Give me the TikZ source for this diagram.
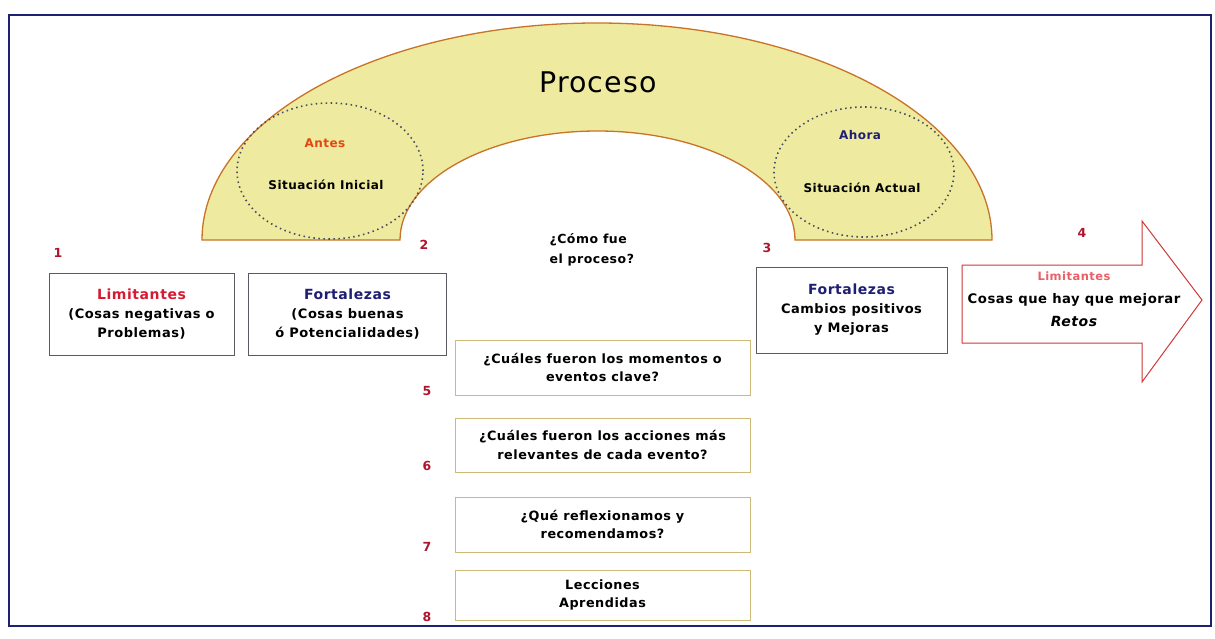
\documentclass[tikz,border=0pt]{standalone}
\usepackage{fontspec}
\setmainfont{DejaVu Sans}[LetterSpace=4]
\definecolor{archfill}{RGB}{238,235,160}
\definecolor{archline}{RGB}{200,115,40}
\definecolor{framecol}{RGB}{28,34,112}
\definecolor{numred}{RGB}{175,20,45}
\definecolor{limred}{RGB}{215,25,50}
\definecolor{antesred}{RGB}{228,70,20}
\definecolor{navytxt}{RGB}{30,30,115}
\definecolor{arrowred}{RGB}{210,55,55}
\definecolor{lightred}{RGB}{235,95,105}
\definecolor{qline}{RGB}{205,185,120}
\definecolor{boxline}{RGB}{90,90,100}
\definecolor{dotcol}{RGB}{70,75,95}
\newcommand\ttlfnt{\bfseries\fontsize{14}{19}\selectfont}
\begin{document}
\begin{tikzpicture}[x=1pt,y=-1pt,
  numlbl/.style={font=\bfseries\fontsize{12.5}{14}\selectfont, text=numred},
  wbox/.style={draw=boxline, line width=0.8pt, fill=white, align=center, inner sep=0pt,
    font=\bfseries\fontsize{13}{19}\selectfont},
  qbox/.style={draw=qline, line width=1pt, fill=white, align=center, inner sep=0pt,
    minimum width=295pt, font=\bfseries\fontsize{12.8}{18.5}\selectfont},
  dotell/.style={draw=dotcol, line width=1.6pt, dash pattern=on 1.5pt off 3.5pt},
  archtxt/.style={font=\bfseries\fontsize{12}{13}\selectfont}
]
\useasboundingbox (0,0) rectangle (1215,639);
% frame
\draw[framecol, line width=2.5pt] (9,15) rectangle (1211,626);
% arch
\draw[archline, line width=1.3pt, fill=archfill]
  (202,240) arc[start angle=180, end angle=0, x radius=395pt, y radius=217pt]
  -- (795,240) arc[start angle=0, end angle=180, x radius=197.5pt, y radius=109pt]
  -- cycle;
\draw[dotell] (330,171) ellipse[x radius=93pt, y radius=68pt];
\draw[dotell] (864,172) ellipse[x radius=90pt, y radius=65pt];
\node[font=\fontsize{28.5}{32}\selectfont] (proc) at (598,82) {Proceso};
\node[archtxt, text=antesred] (antes) at (325,143) {Antes};
\node[archtxt] (sinicial) at (326,185) {Situación Inicial};
\node[archtxt, text=navytxt] (ahora) at (860,135) {Ahora};
\node[archtxt] (sactual) at (862,188) {Situación Actual};
% numbers
\node[numlbl] (n1) at (58,253) {1};
\node[numlbl] (n2) at (424,245) {2};
\node[numlbl] (n3) at (767,248) {3};
\node[numlbl] (n4) at (1082,233) {4};
\node[numlbl] (n5) at (427,391) {5};
\node[numlbl] (n6) at (427,466) {6};
\node[numlbl] (n7) at (427,547) {7};
\node[numlbl] (n8) at (427,617) {8};
% boxes
\node[wbox, minimum width=185pt, minimum height=82pt] (b1) at (141.5,314)
  {{\ttlfnt\textcolor{limred}{Limitantes}}\\(Cosas negativas o\\Problemas)};
\node[wbox, minimum width=198pt, minimum height=82pt] (b2) at (347.5,314)
  {{\ttlfnt\textcolor{navytxt}{Fortalezas}}\\(Cosas buenas\\ó Potencialidades)};
\node[wbox, minimum width=191pt, minimum height=86pt] (b3) at (851.5,310)
  {{\ttlfnt\textcolor{navytxt}{Fortalezas}}\\Cambios positivos\\y Mejoras};
\node[font=\bfseries\fontsize{12.5}{20}\selectfont, align=left, anchor=west] (como) at (546,250)
  {¿Cómo fue\\el proceso?};
% question boxes
\node[qbox, minimum height=55pt] (b5) at (602.5,367.5) {¿Cuáles fueron los momentos o\\eventos clave?};
\node[qbox, minimum height=54pt] (b6) at (602.5,445) {¿Cuáles fueron los acciones más\\relevantes  de cada evento?};
\node[qbox, minimum height=55pt] (b7) at (602.5,524.5) {¿Qué reflexionamos y\\recomendamos?};
\node[qbox, minimum height=50pt] (b8) at (602.5,595) {Lecciones\\Aprendidas};
% arrow 4
\coordinate (a1) at (962,265);
\coordinate (a2) at (1142,265);
\coordinate (a3) at (1142,221);
\coordinate (a4) at (1202,300);
\coordinate (a5) at (1142,382);
\coordinate (a6) at (1142,343);
\coordinate (a7) at (962,343);
\draw[arrowred, line width=1pt, fill=white] (a1) -- (a2) -- (a3) -- (a4) -- (a5) -- (a6) -- (a7) -- cycle;
\node[align=center, font=\bfseries\fontsize{13.2}{23}\selectfont] (b4) at (1074,299)
  {{\fontsize{11.5}{23}\selectfont\textcolor{lightred}{Limitantes}}\\Cosas que hay que mejorar\\{\itshape\fontsize{14}{14}\selectfont Retos}};
\end{tikzpicture}
\end{document}
